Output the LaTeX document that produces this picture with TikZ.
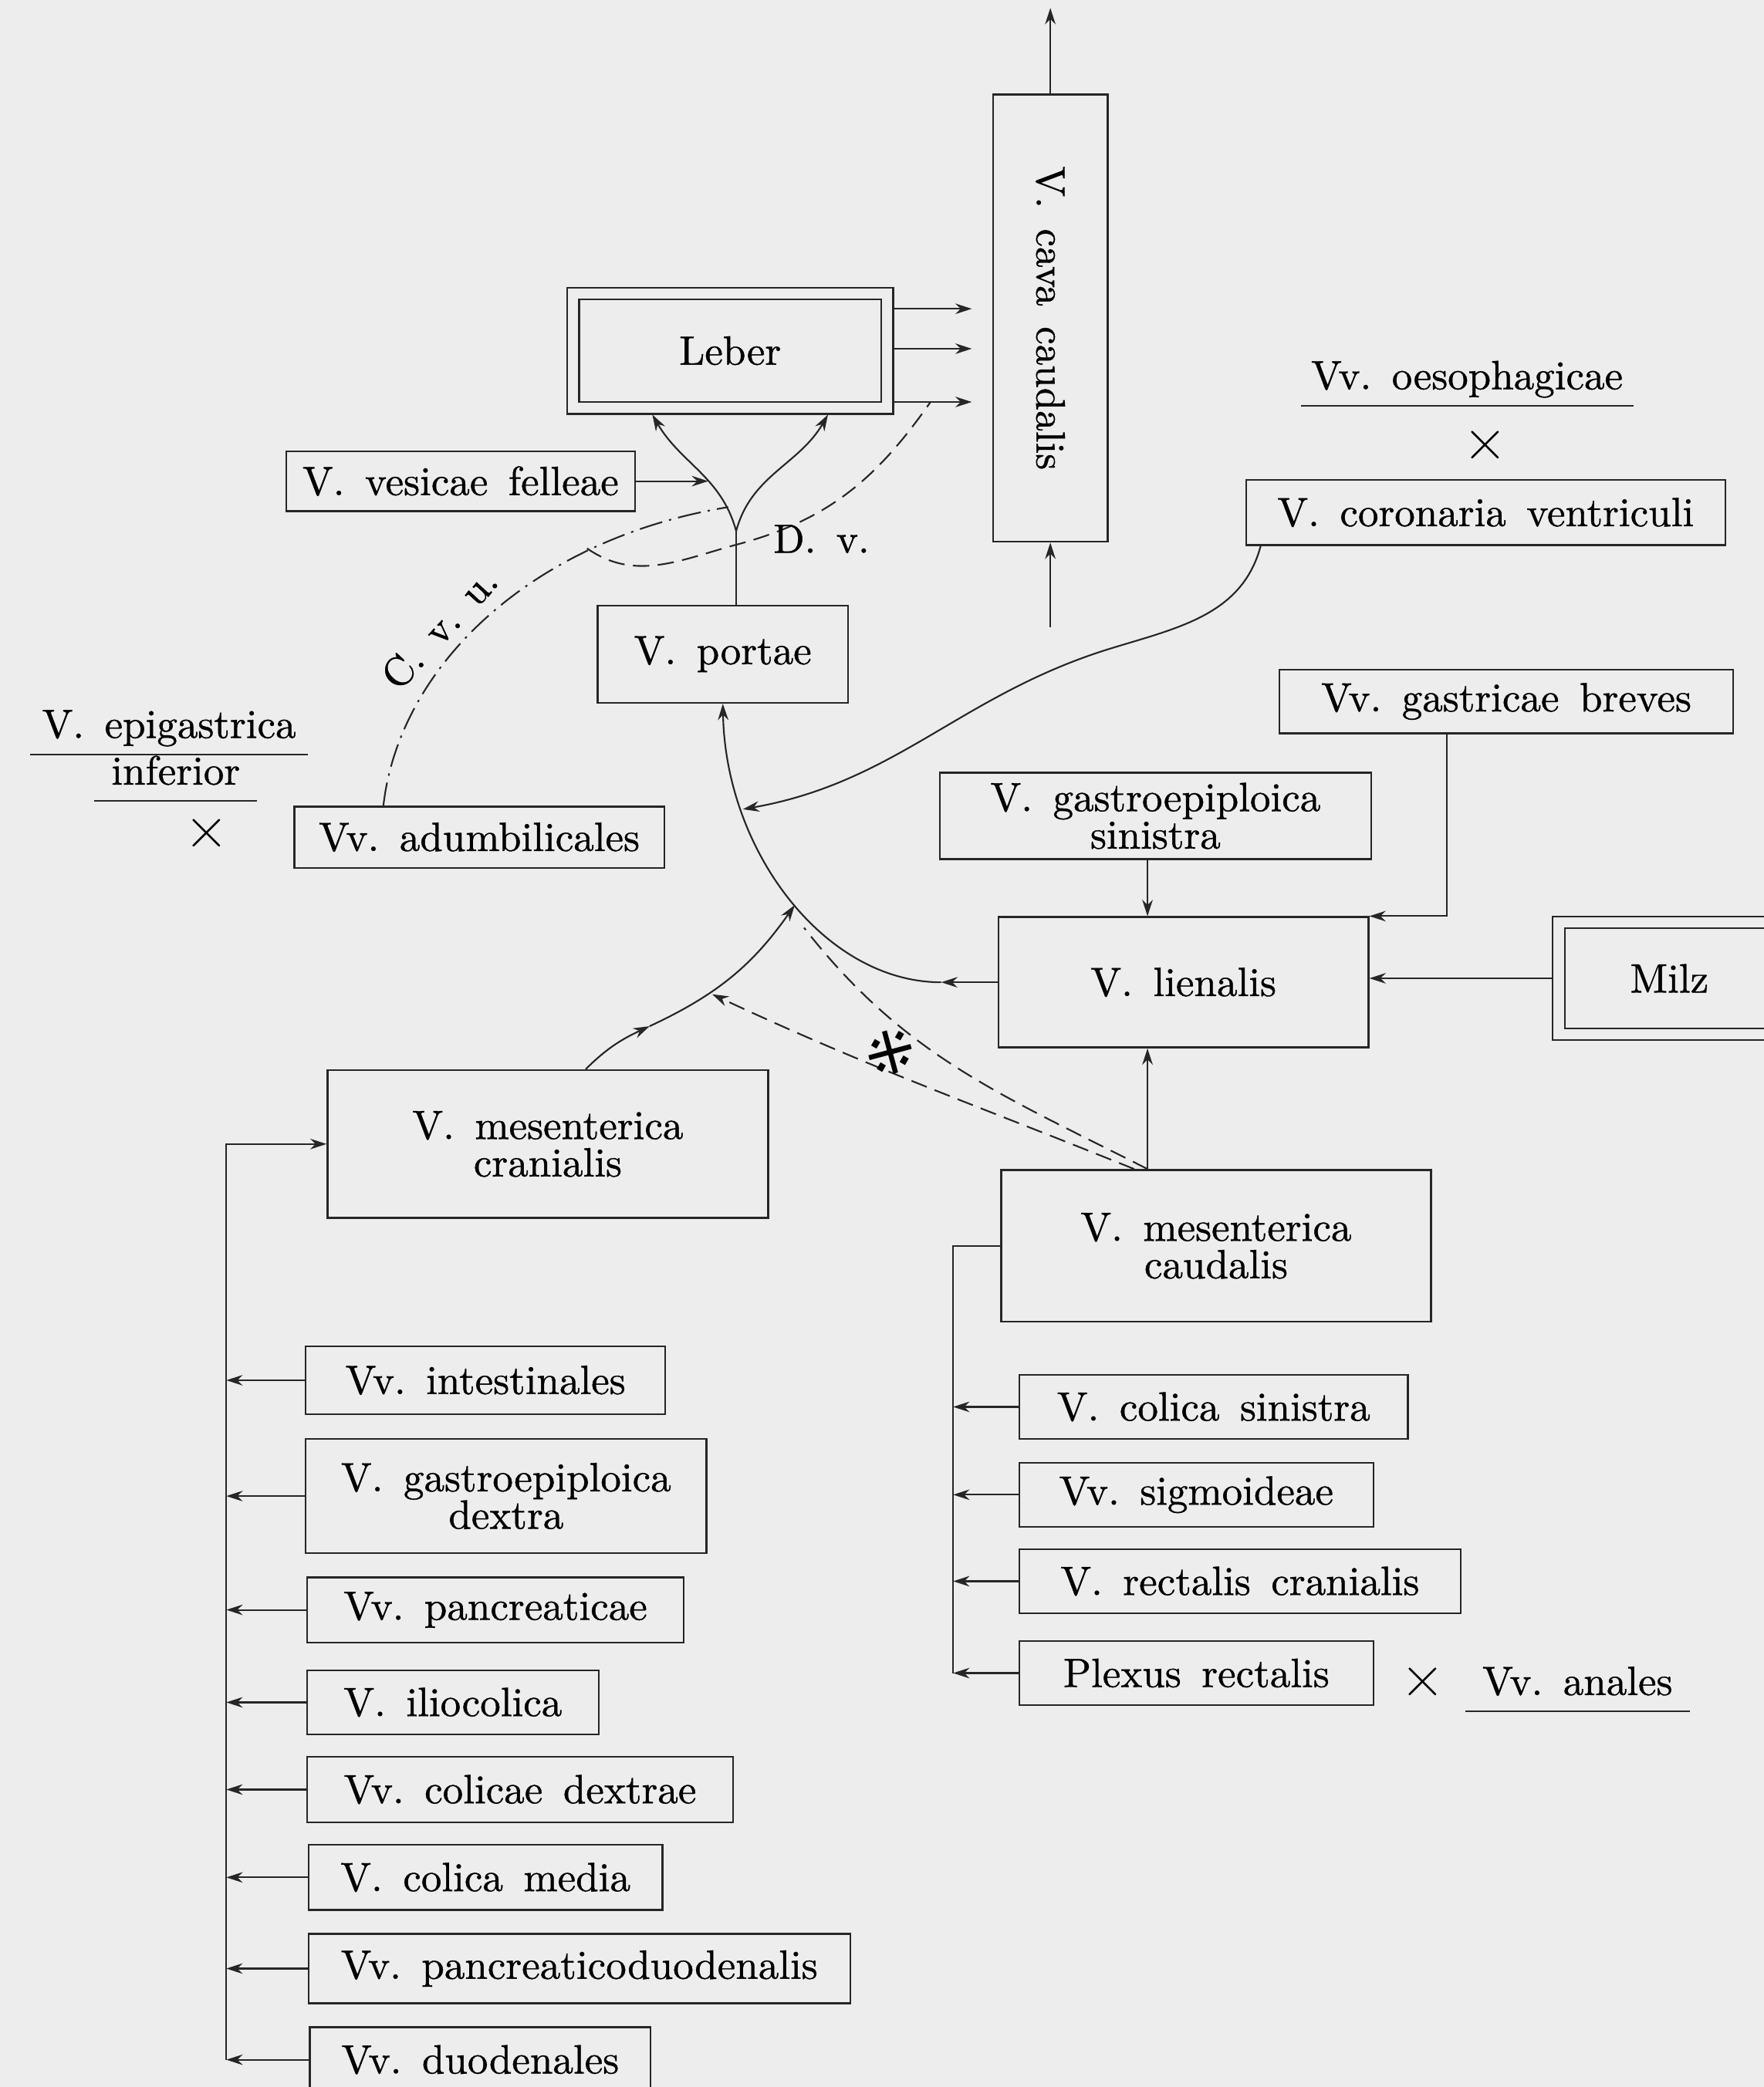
\documentclass[tikz,border=0pt]{standalone}
\usepackage{fontspec}
\usepackage{tikz}
\usetikzlibrary{arrows.meta}
\newfontfamily\symbfont{DejaVu Sans}
\newfontfamily\veinface{lmroman10-regular.otf}[FakeBold=0.8]
\protected\def\veinfont{\veinface\fontsize{17.5}{16}\selectfont\frenchspacing\spaceskip=0.5em plus 0.1em\relax}
\tikzstyle{vein} = [rectangle,
inner sep=0pt,
text centered,
align=center,
line width=0.8pt,
draw=black!85]
\tikzstyle{organ} = [rectangle,
text centered,
line width=0.7pt,
double=black!7,
double distance=0.155cm,
outer sep=0.1cm,
draw=black!85]
\tikzstyle{undertext} = [inner xsep=0.15cm, text height=12pt, text depth=3.5pt]
\tikzstyle{xmark} = [inner sep=0pt, font=\fontsize{26}{26}\selectfont]
\tikzstyle{vline} = [line width=0.7pt, draw=black!85]
\tikzstyle{arrow} = [vline, -{Stealth[length=7pt,width=4.5pt]}]
\tikzstyle{dashline} = [vline, dash pattern=on 7pt off 3.6pt]
\tikzstyle{dashdotline} = [vline, dash pattern=on 10pt off 3pt on 1pt off 3pt]

\begin{document}
\begin{tikzpicture}[x=0.02cm, y=0.02cm, text=black, font=\veinfont]
\path[use as bounding box, fill=black!7] (0,0) rectangle (1325,-1568);

% upper part
\node (leber)[organ, minimum width=4.72cm, minimum height=1.72cm] at (548.5,-263.5) {Leber};
\node (cava)[vein, rotate=-90, minimum width=6.72cm, minimum height=1.72cm] at (789,-239) {V. cava caudalis};
\node (vesicae)[vein, minimum width=5.24cm, minimum height=0.9cm] at (346,-361.5) {V. vesicae felleae};
\node (portae)[vein, minimum width=3.76cm, minimum height=1.46cm] at (543,-491.5) {V. portae};
\node (adumb)[vein, minimum width=5.56cm, minimum height=0.92cm] at (360,-629) {Vv. adumbilicales};
\node (epig)[undertext, inner xsep=0.17cm] at (127,-547) {V. epigastrica};
\node (infer)[undertext, inner xsep=0.25cm] at (132,-582) {inferior};
\node (xepig)[xmark] at (155,-626) {×};
\draw[vline] (epig.south west) -- (epig.south east);
\draw[vline] (infer.south west) -- (infer.south east);

\node (oesoph)[undertext] at (1102,-285) {Vv. oesophagicae};
\draw[vline] (oesoph.south west) -- (oesoph.south east);
\node (xoesoph)[xmark] at (1116,-335) {×};
\node (coronaria)[vein, minimum width=7.2cm, minimum height=0.98cm] at (1116,-385) {V. coronaria ventriculi};
\node (gastbrev)[vein, minimum width=6.82cm, minimum height=0.96cm] at (1131.5,-527) {Vv. gastricae breves};
\node (gesin)[vein, minimum width=6.48cm, minimum height=1.3cm] at (868,-613) {V. gastroepiploica\\sinistra};
\node (lienalis)[vein, minimum width=5.56cm, minimum height=1.96cm] at (889,-738) {V. lienalis};
\node (milz)[organ, minimum width=3.32cm, minimum height=1.68cm] at (1254,-735) {Milz};
\node (cranialis)[vein, minimum width=6.62cm, minimum height=2.22cm] at (411.5,-859.5) {V. mesenterica\\cranialis};
\node (caudalis)[vein, minimum width=6.46cm, minimum height=2.28cm] at (913.5,-936) {V. mesenterica\\caudalis};

% left list
\node (intest)[vein, anchor=west, minimum width=5.4cm, minimum height=1.02cm] at (229,-1037) {Vv. intestinales};
\node (gedext)[vein, anchor=west, minimum width=6.02cm, minimum height=1.72cm] at (229,-1124) {V. gastroepiploica\\dextra};
\node (pancr)[vein, anchor=west, minimum width=5.66cm, minimum height=0.98cm] at (230,-1209.5) {Vv. pancreaticae};
\node (ilioc)[vein, anchor=west, minimum width=4.38cm, minimum height=0.96cm] at (230,-1279) {V. iliocolica};
\node (coldex)[vein, anchor=west, minimum width=6.4cm, minimum height=0.98cm] at (230,-1344.5) {Vv. colicae dextrae};
\node (colmed)[vein, anchor=west, minimum width=5.32cm, minimum height=0.98cm] at (231,-1410.5) {V. colica media};
\node (pancduo)[vein, anchor=west, minimum width=8.14cm, minimum height=1.04cm] at (231,-1479) {Vv. pancreaticoduodenalis};
\node (duoden)[vein, anchor=west, minimum width=5.12cm, minimum height=0.98cm] at (232,-1547.5) {Vv. duodenales};

% right list
\node (colsin)[vein, anchor=west, minimum width=5.84cm, minimum height=0.96cm] at (765,-1057) {V. colica sinistra};
\node (sigm)[vein, anchor=west, minimum width=5.32cm, minimum height=0.96cm] at (765,-1123) {Vv. sigmoideae};
\node (rectcran)[vein, anchor=west, minimum width=6.63cm, minimum height=0.96cm] at (765,-1188) {V. rectalis cranialis};
\node (plexus)[vein, anchor=west, minimum width=5.32cm, minimum height=0.96cm] at (765,-1257) {Plexus rectalis};
\node (xanal)[xmark] at (1069,-1264) {×};
\node (anales)[undertext, inner xsep=0.25cm] at (1185,-1266) {Vv. anales};
\draw[vline] (anales.south west) -- (anales.south east);

% junctions
\coordinate (cavaL) at (730,0);
\coordinate (cavaOut) at (789,-6);
\coordinate (cavaIn) at (789,-471);
\coordinate (split) at (553,-399);
\coordinate (vfEnd) at (532,-361.5);
\coordinate (cvuX) at (288,0);
\coordinate (cvuEnd) at (547,-381);
\coordinate (dvStart) at (441,-412);
\coordinate (dvMid) at (554,-409);
\coordinate (dvEnd) at (699,-302);
\coordinate (corX) at (947,0);
\coordinate (corMid) at (835,-487);
\coordinate (lienOut) at (707,-738);
\coordinate (jCor) at (558,-608);
\coordinate (jCran) at (597,-680);
\coordinate (crX) at (440,0);
\coordinate (crMid) at (488,-771);
\coordinate (jDash) at (535,-747);
\coordinate (jUp) at (604,-697);
\coordinate (vX) at (862,0);
\coordinate (dashX) at (852,0);
\coordinate (gbX) at (1087,0);
\coordinate (busL) at (170,-1547.5);
\coordinate (busR) at (716,-1257);

% Leber and V. cava
\foreach \y in {232,262,302}
  \draw[arrow] (leber.east |- 0,-\y) -- (cavaL |- 0,-\y);
\draw[arrow] (cava.west) -- (cavaOut);
\draw[arrow] (cavaIn) -- (cava.east);

\draw[vline] (portae.north -| split) -- (split);
\draw[arrow] (split) to[out=105,in=-60] ([xshift=-1.17cm]leber.south);
\draw[arrow] (split) to[out=75,in=-120] ([xshift=1.47cm]leber.south);
\draw[arrow] (vesicae.east) -- (vfEnd);

\draw[dashline] (dvStart) to[out=-35,in=195] (dvMid) to[out=15,in=-125] (dvEnd);
\node (dv) at (617,-405) {D. v.};
\draw[dashdotline] (adumb.north -| cvuX) .. controls (300,-500) and (400,-405) .. (cvuEnd);
\node (cvu)[rotate=47] at (330,-472) {C. v. u.};

% into V. portae
\draw[arrow] (lienalis.west) -- (lienOut);
\draw[arrow] (lienOut) .. controls (620,-738) and (545,-640) .. (portae.south);
\draw[arrow] (coronaria.south -| corX) to[out=-105,in=17] (corMid) to[out=197,in=10] (jCor);
\draw[arrow] (cranialis.north -| crX) to[out=45,in=205] (crMid);
\draw[arrow] (crMid) to[out=25,in=235] (jCran);
\draw[arrow, dashline] (caudalis.north -| dashX) to[out=158,in=-25] (jDash);
\draw[dashline] (caudalis.north -| vX) to[out=153,in=-52] (jUp);
\node (mark)[rotate=-30, font=\symbfont\fontsize{26}{26}\selectfont] at (669,-790) {※};

% into V. lienalis
\draw[arrow] (gesin.south -| vX) -- (lienalis.north -| vX);
\draw[arrow] (gastbrev.south -| gbX) |- (lienalis.north east);
\draw[arrow] (milz.west) -- (milz.west -| lienalis.east);
\draw[arrow] (caudalis.north -| vX) -- (lienalis.south -| vX);

% branches
\draw[arrow] (busL) |- (cranialis.west);
\foreach \n in {intest,gedext,pancr,ilioc,coldex,colmed,pancduo,duoden}
  \draw[arrow] (\n.west) -- (\n.west -| busL);
\draw[vline] (caudalis.west) -| (busR);
\foreach \n in {colsin,sigm,rectcran,plexus}
  \draw[arrow] (\n.west) -- (\n.west -| busR);
\end{tikzpicture}
\end{document}
